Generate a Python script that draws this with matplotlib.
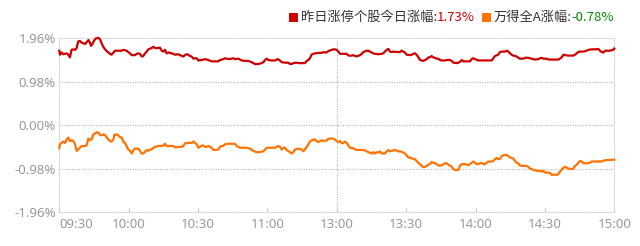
import matplotlib
matplotlib.use('Agg')
import matplotlib.pyplot as plt
from matplotlib.offsetbox import HPacker, TextArea, DrawingArea, AnchoredOffsetbox
from matplotlib.patches import Rectangle

# 交易分钟（09:30 起算，午间休市合并），单位：%
time_labels = ['09:30', '10:00', '10:30', '11:00', '13:00', '13:30', '14:00', '14:30', '15:00']
y_ticks = [1.96, 0.98, 0.00, -0.98, -1.96]

red_name = '昨日涨停个股今日涨幅'
red_last = '1.73%'
wind_name = '万得全A涨幅'
wind_last = '-0.78%'

red_t = [0.0, 0.3, 1.0, 1.7, 2.5, 3.2, 3.9, 4.6, 5.3, 6.1, 6.8, 7.5, 8.2, 8.9, 9.7, 10.4, 11.1, 11.8, 12.6, 13.3,
         13.7, 14.3, 15.2, 15.9, 16.9, 17.6, 18.3, 19.0, 19.8, 20.5, 21.2, 21.9, 22.6, 23.4, 24.1, 25.5, 27.0, 27.7,
         28.4, 29.1, 29.8, 30.6, 31.3, 32.7, 33.5, 34.2, 34.9, 35.6, 36.3, 37.1, 37.8, 38.5, 39.9, 40.7, 41.4, 42.8,
         43.5, 44.3, 45.0, 45.7, 46.4, 47.2, 48.6, 49.3, 50.0, 51.5, 52.2, 53.6, 54.4, 55.1, 55.8, 56.5, 57.2, 58.0,
         58.7, 59.4, 60.1, 61.6, 63.0, 64.4, 65.9, 67.3, 68.8, 69.5, 70.9, 71.7, 73.1, 74.5, 75.3, 76.0, 77.4, 78.9,
         80.3, 81.7, 83.2, 84.6, 86.1, 87.5, 88.2, 89.0, 89.7, 90.4, 91.8, 93.3, 94.4, 95.4, 96.2, 97.6, 99.0, 99.8,
         100.5, 101.2, 102.6, 103.4, 104.8, 106.2, 107.0, 107.7, 108.4, 109.1, 109.8, 110.6, 112.0, 113.5, 114.2,
         114.9, 115.6, 116.3, 117.8, 118.5,
         119.2, 119.9, 120.7, 121.4, 122.8, 124.3, 125.0, 126.4, 127.2, 127.9, 128.6, 130.0, 130.8, 131.5, 132.9,
         133.6, 135.1, 135.8, 136.5, 138.0, 139.4, 140.1, 140.8, 141.6, 142.3, 143.0, 143.7, 144.4, 145.9, 147.3,
         148.0, 148.8, 149.5, 150.2, 151.7, 152.4, 153.1, 153.8, 154.5, 155.3, 156.0, 157.4, 158.1, 158.9, 159.6,
         160.3, 161.0, 161.7, 162.5, 163.2, 163.9, 164.6, 165.3, 166.8, 167.5, 168.9, 169.7, 170.4, 171.8, 172.6,
         173.3, 174.0, 174.7, 176.2, 177.6, 178.3, 179.0,
         179.8, 181.2, 182.6, 184.1, 185.5, 187.0, 187.7, 188.4, 189.8, 190.6, 191.3, 192.7, 193.5, 194.2, 194.9,
         195.6, 196.3, 197.1, 197.8, 198.5, 199.2, 200.7, 201.4, 202.8, 204.3, 205.7, 207.1, 207.9, 208.6, 209.3,
         210.8, 211.5, 215.8, 216.5, 217.2, 218.0, 218.7, 220.1, 222.3, 223.0, 223.7, 224.4, 225.2, 226.6, 228.0,
         228.8, 230.2, 231.6, 233.1, 233.8, 234.5, 235.3, 236.0, 238.1, 239.6, 240.0]
red_v = [1.68, 1.59, 1.64, 1.60, 1.61, 1.62, 1.59, 1.53, 1.70, 1.71, 1.70, 1.74, 1.89, 1.90, 1.86, 1.85, 1.83, 1.87,
         1.92, 1.86, 1.79, 1.83, 1.92, 1.96, 1.97, 1.94, 1.85, 1.77, 1.71, 1.67, 1.64, 1.61, 1.59, 1.64, 1.68, 1.68,
         1.68, 1.70, 1.69, 1.68, 1.65, 1.62, 1.58, 1.58, 1.61, 1.62, 1.61, 1.55, 1.56, 1.62, 1.66, 1.71, 1.74, 1.77,
         1.74, 1.74, 1.75, 1.68, 1.66, 1.70, 1.62, 1.64, 1.62, 1.61, 1.59, 1.60, 1.58, 1.55, 1.58, 1.60, 1.59, 1.56,
         1.55, 1.50,
         1.51, 1.51, 1.46, 1.47, 1.49, 1.47, 1.44, 1.44, 1.44, 1.47, 1.49, 1.51, 1.49, 1.50, 1.51, 1.49, 1.50, 1.46,
         1.45, 1.45, 1.42, 1.38, 1.38, 1.40, 1.42, 1.47, 1.50, 1.47, 1.46, 1.46, 1.49, 1.46, 1.42, 1.41, 1.41, 1.38,
         1.38, 1.40, 1.41, 1.40, 1.40, 1.40, 1.45, 1.47, 1.51, 1.59, 1.61, 1.62, 1.63, 1.63, 1.65, 1.64, 1.64, 1.67,
         1.70, 1.71,
         1.71, 1.70, 1.66, 1.61, 1.61, 1.61, 1.57, 1.57, 1.58, 1.56, 1.55, 1.58, 1.61, 1.65, 1.68, 1.68, 1.64, 1.62,
         1.61, 1.60, 1.61, 1.62, 1.66, 1.70, 1.72, 1.66, 1.65, 1.66, 1.65, 1.65, 1.68, 1.66, 1.64, 1.59, 1.58, 1.59,
         1.61, 1.62, 1.59, 1.53, 1.47, 1.45, 1.47, 1.49, 1.53, 1.53, 1.56, 1.53, 1.52, 1.50, 1.50, 1.47, 1.46, 1.46,
         1.47, 1.47, 1.45, 1.41, 1.40, 1.41, 1.43, 1.47, 1.44, 1.44, 1.44, 1.49, 1.51,
         1.49, 1.46, 1.46, 1.46, 1.46, 1.46, 1.51, 1.56, 1.59, 1.65, 1.66, 1.66, 1.68, 1.66, 1.62, 1.59, 1.57, 1.56,
         1.55, 1.52, 1.50, 1.50, 1.52, 1.52, 1.50, 1.48, 1.49, 1.51, 1.52, 1.50, 1.50, 1.48, 1.48, 1.50, 1.53, 1.59,
         1.58, 1.57, 1.57, 1.59, 1.62, 1.65, 1.66, 1.66, 1.68, 1.70, 1.71, 1.71, 1.72, 1.68, 1.65, 1.64, 1.68, 1.68,
         1.70, 1.73]

wind_t = [0.0, 0.3, 1.0, 1.7, 2.5, 3.2, 3.9, 4.6, 5.3, 6.1, 6.8, 7.5, 8.2, 8.9, 9.7, 11.1, 11.8, 12.6, 13.3, 14.0,
          14.7, 15.4, 16.2, 16.9, 17.6, 18.3, 19.0, 19.8, 20.5, 21.2, 21.9, 22.6, 23.4, 23.8, 24.8, 25.5, 26.2, 27.0,
          27.7, 28.4, 29.1, 29.8, 30.6, 31.3, 32.0, 32.7, 34.2, 34.9, 35.6, 36.3, 37.1, 37.8, 38.5, 39.2, 39.9, 40.7,
          41.4, 42.8, 44.3, 45.0, 45.7, 46.4, 47.9, 49.3, 50.0, 50.8, 51.5, 52.9, 53.6, 54.4, 55.8, 57.2, 58.0,
          58.7, 59.4, 60.1, 60.8, 61.6, 62.3, 63.0, 63.7, 64.4, 65.2, 65.9, 66.6, 67.3, 68.8, 69.5, 70.2, 70.9, 71.7,
          73.1, 76.0, 76.7, 77.4, 78.1, 81.0, 82.5, 83.9, 85.3, 86.8, 88.2, 89.0, 89.7, 93.3, 94.7, 95.4, 96.2, 96.9,
          97.6, 98.3, 99.8, 100.5, 101.2, 101.9, 103.4, 104.8, 105.5, 106.2, 107.0, 107.7, 108.4, 109.1, 110.6,
          111.3, 112.0, 112.7, 113.5, 114.2, 115.6, 116.3, 117.8, 118.5,
          119.2, 119.9, 120.7, 121.4, 122.1, 122.8, 123.5, 124.3, 125.0, 125.7, 127.2, 127.9, 129.3, 130.8, 132.2,
          132.9, 133.6, 134.4, 135.1, 135.8, 136.5, 137.2, 138.0, 138.7, 139.4, 140.8, 141.6, 142.3, 143.0, 144.4,
          145.2, 146.6, 148.0, 148.8, 149.5, 150.2, 150.9, 151.7, 152.4, 153.8, 155.3, 156.7, 157.4, 158.1, 158.9,
          159.6, 160.3, 161.0, 161.7, 162.5, 163.2, 163.9, 165.3, 166.1, 166.8, 167.5, 168.2, 168.9, 169.7, 170.4,
          171.1, 172.6, 173.3, 174.0, 175.4, 176.9, 177.6, 178.3, 179.0,
          179.8, 180.5, 181.2, 181.9, 182.6, 183.4, 184.1, 184.8, 185.5, 187.0, 187.7, 188.4, 189.1, 189.8, 190.6,
          191.3, 192.0, 193.5, 194.2, 194.9, 196.3, 197.1, 197.8, 198.5, 199.2, 200.4, 202.1, 202.8, 203.5, 204.3,
          205.0, 206.4, 207.9, 208.6, 209.3, 210.0, 211.5, 212.2, 212.9, 215.5, 216.5, 217.2, 218.0, 218.7, 219.4,
          220.1, 221.6, 222.3, 223.0, 223.7, 224.4, 225.2, 225.9, 226.6, 228.0, 229.5, 230.2, 231.6, 234.5, 236.0,
          240.0]
wind_v = [-0.52, -0.43, -0.40, -0.37, -0.40, -0.32, -0.28, -0.36, -0.34, -0.36, -0.43, -0.58, -0.55, -0.51, -0.47,
          -0.47, -0.46, -0.30, -0.34, -0.32, -0.21, -0.19, -0.16, -0.17, -0.22, -0.23, -0.21, -0.22, -0.28, -0.32,
          -0.36, -0.37, -0.32, -0.22, -0.21, -0.23, -0.27, -0.28, -0.38, -0.40, -0.47, -0.55, -0.58, -0.64, -0.57,
          -0.53, -0.53, -0.58, -0.64, -0.64, -0.60, -0.56, -0.58, -0.55, -0.55, -0.51, -0.49, -0.47, -0.47, -0.46,
          -0.42, -0.47, -0.47, -0.47, -0.50, -0.50, -0.49, -0.49, -0.47, -0.41, -0.40, -0.40, -0.37,
          -0.40, -0.43, -0.51, -0.49, -0.46, -0.46, -0.49, -0.49, -0.47, -0.49, -0.51, -0.56, -0.56, -0.55, -0.49,
          -0.47, -0.47, -0.43, -0.42, -0.42, -0.47, -0.49, -0.51, -0.51, -0.53, -0.58, -0.61, -0.61, -0.59, -0.55,
          -0.51, -0.51, -0.47, -0.49, -0.55, -0.51, -0.51, -0.56, -0.61, -0.64, -0.61, -0.55, -0.53, -0.55, -0.59,
          -0.55, -0.49, -0.43, -0.37, -0.34, -0.32, -0.36, -0.38, -0.36, -0.34, -0.36, -0.35, -0.31, -0.30, -0.31,
          -0.32, -0.36, -0.38, -0.36, -0.41, -0.40, -0.37, -0.40, -0.46, -0.51, -0.52, -0.55, -0.56, -0.56, -0.57,
          -0.59, -0.61, -0.62, -0.64, -0.61, -0.64, -0.61, -0.62, -0.59, -0.64, -0.64, -0.59, -0.56, -0.59, -0.57,
          -0.56, -0.59, -0.60, -0.62, -0.64, -0.68, -0.73, -0.73, -0.75, -0.77, -0.85, -0.92, -0.95, -0.94, -0.92,
          -0.89, -0.88, -0.83, -0.85, -0.86, -0.88, -0.91, -0.91, -0.88, -0.86, -0.86, -0.89, -0.91, -0.94, -0.99,
          -1.01, -1.01, -0.92, -0.88, -0.88, -0.90, -0.88, -0.85, -0.82,
          -0.85, -0.88, -0.88, -0.86, -0.85, -0.88, -0.88, -0.85, -0.82, -0.82, -0.81, -0.77, -0.74, -0.77, -0.76,
          -0.70, -0.68, -0.67, -0.70, -0.73, -0.75, -0.81, -0.85, -0.86, -0.91, -0.92, -0.92, -0.94, -0.98, -0.99,
          -1.01, -1.03, -1.03, -1.05, -1.03, -1.07, -1.07, -1.08, -1.12, -1.12, -1.05, -1.01, -0.96, -0.94, -0.96,
          -0.98, -0.99, -0.98, -0.92, -0.90, -0.85, -0.81, -0.82, -0.86, -0.86, -0.85, -0.82, -0.82, -0.82, -0.79,
          -0.78]

RED = '#cc0000'
ORANGE = '#ff7300'
GREEN = '#008a00'
GRAY = '#999999'
CJK = ['Noto Sans CJK SC', 'DejaVu Sans']

fig = plt.figure(figsize=(6.4, 2.46), dpi=100)
ax = fig.add_axes([59.3 / 640, 1 - 212 / 246, 555 / 640, (212 - 38.3) / 246])

ax.plot(red_t, red_v, color=RED, lw=1.6, clip_on=False, zorder=3)
ax.plot(wind_t, wind_v, color=ORANGE, lw=1.6, clip_on=False, zorder=3)

ax.set_xlim(0, 240)
ax.set_ylim(-1.96, 1.96)

dots = (0, (0.8, 1.4))
for v in y_ticks[1:-1]:
    ax.axhline(v, color='#a8a8a8', lw=0.8, ls=dots, zorder=1)
ax.axvline(120, color='#a8a8a8', lw=0.8, ls=dots, zorder=1)
for s in ax.spines.values():
    s.set_color('#d6d6d6')
    s.set_linewidth(0.8)
    s.set_linestyle(dots)

ax.set_yticks(y_ticks)
ax.set_yticklabels([f'{v:.2f}%' for v in y_ticks])
ax.set_xticks(range(0, 241, 30))
ax.set_xticklabels(time_labels)
ax.tick_params(axis='y', length=0, pad=2.5, labelcolor=GRAY, labelsize=9.5)
ax.tick_params(axis='x', length=3, direction='in', color='#c8c8c8', pad=4, labelcolor=GRAY, labelsize=9.5)
for lab in ax.get_xticklabels() + ax.get_yticklabels():
    lab.set_family('Noto Sans')
ax.get_xticklabels()[0].set_ha('left')


def square(color):
    da = DrawingArea(6.5, 6.5, 0, 0)
    da.add_artist(Rectangle((0, 0), 6.5, 6.5, fc=color, ec='none'))
    return da


def txt(s, color):
    return TextArea(s, textprops=dict(color=color, fontsize=9.5, family=CJK))


g1 = HPacker(children=[square(RED), HPacker(children=[txt(red_name + ':', '#333333'), txt(red_last, RED)],
                                            sep=0, align='baseline')], sep=2, align='center')
g2 = HPacker(children=[square(ORANGE), HPacker(children=[txt(wind_name + ':', '#333333'), txt(wind_last, GREEN)],
                                               sep=0, align='baseline')], sep=2, align='center')
box = HPacker(children=[g1, g2], sep=5, align='center')
leg = AnchoredOffsetbox(loc='upper right', child=box, frameon=False, pad=0, borderpad=0,
                        bbox_to_anchor=(614 / 640, 1 - 11 / 246), bbox_transform=fig.transFigure)
fig.add_artist(leg)

fig.savefig('out.png', dpi=100)
